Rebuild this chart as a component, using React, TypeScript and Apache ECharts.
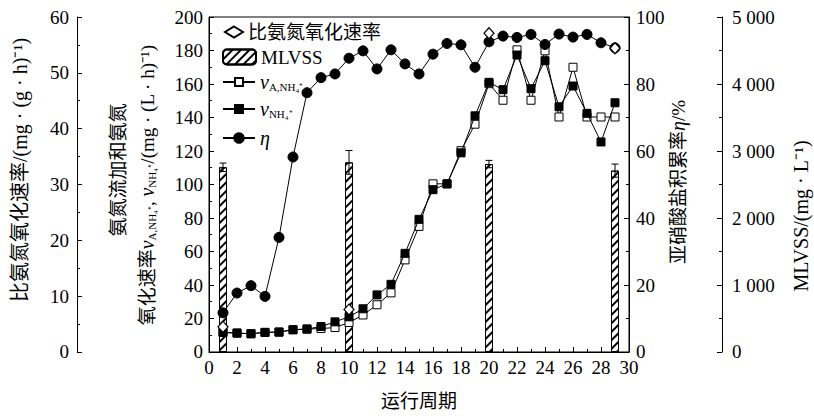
import React, { useEffect, useRef } from 'react';
import * as echarts from 'echarts';

// ---- data ----
const cycles = [1, 2, 3, 4, 5, 6, 7, 8, 9, 10, 11, 12, 13, 14, 15, 16, 17, 18, 19, 20, 21, 22, 23, 24, 25, 26, 27, 28, 29];
// 亚硝酸盐积累率 η (%)
const etaPct = [11.7, 17.6, 19.8, 16.6, 34.2, 58.2, 77.4, 81.9, 83.0, 87.7, 89.9, 84.5, 90.2, 86.0, 83.0, 88.9, 92.1, 91.7, 85.0, 92.6, 94.3, 93.9, 94.8, 91.8, 94.9, 94.0, 94.8, 92.3, 90.8];
// 氨氮流加速率 v_A,NH4+ (open squares)
const vAdded = [11.7, 11.3, 10.9, 11.7, 11.9, 13.3, 13.7, 14.0, 14.6, 17.6, 22.1, 28.2, 35.3, 55.0, 75.0, 100.4, 100.4, 120.2, 136.0, 160.2, 150.3, 180.4, 150.3, 179.8, 140.3, 170.0, 140.3, 140.3, 140.3];
// 氨氮氧化速率 v_NH4+ (filled squares)
const vOxidized = [11.7, 11.3, 10.9, 11.7, 11.9, 13.3, 13.7, 15.2, 18.0, 21.0, 25.8, 34.1, 40.4, 58.9, 79.2, 96.9, 100.4, 118.9, 141.0, 161.0, 156.6, 177.3, 157.2, 173.9, 146.4, 158.8, 142.5, 125.4, 148.8];
// 比氨氮氧化速率 (mg/(g·h))
const specCycles = [1, 10, 20, 29];
const specRate = [4.5, 7.6, 57.1, 54.4];
// MLVSS (mg/L)
const mlvss = [2757, 2830, 2805, 2707];
const mlvssErr = [63, 177, 55, 98];

const SERIF = "'Liberation Serif', 'Times New Roman', 'Noto Sans CJK SC', serif";
const FS = 19;

const pairs = (xs: number[], ys: number[]) => xs.map((x, i) => [x, ys[i]]);

const richStyles = {
  i: { fontStyle: 'italic', fontSize: 20, lineHeight: 20, fontFamily: SERIF, color: '#000', fill: '#000' },
  s: { fontSize: 11, lineHeight: 8, verticalAlign: 'bottom', fontFamily: SERIF, color: '#000', fill: '#000' },
};

function yAxisBase(extra: any) {
  return {
    type: 'value',
    axisLine: { show: true, lineStyle: { color: '#000', width: 1 } },
    axisTick: { show: true, inside: true, length: 5, lineStyle: { color: '#000', width: 1 } },
    minorTick: { show: true, splitNumber: 2, length: 3, lineStyle: { color: '#000', width: 1 } },
    splitLine: { show: false },
    minorSplitLine: { show: false },
    axisLabel: { color: '#000', fontSize: FS, fontFamily: SERIF },
    ...extra,
  };
}

function thousands(v: number) {
  if (v >= 1000) {
    return Math.floor(v / 1000) + ' ' + String(v % 1000).padStart(3, '0');
  }
  return String(v);
}

function nameText(x: number, y: number, text: string, fontSize: number) {
  return {
    type: 'text',
    x,
    y,
    rotation: Math.PI / 2,
    silent: true,
    style: {
      text,
      fill: '#000',
      fontSize,
      fontFamily: SERIF,
      align: 'center',
      verticalAlign: 'middle',
      textAlign: 'center',
      textVerticalAlign: 'middle',
      rich: richStyles,
    },
  };
}

export default function App() {
  const ref = useRef<HTMLDivElement>(null);
  useEffect(() => {
    document.body.style.margin = '0';
    if (!ref.current) return;
    const chart = echarts.init(ref.current, null, { renderer: 'svg' });

    const legendText = {
      color: '#000',
      fontSize: FS,
      fontFamily: SERIF,
      lineHeight: 20,
      rich: richStyles,
    };
    const legendCommon = { orient: 'horizontal', padding: 0, selectedMode: false, textStyle: legendText };

    const option: any = {
      animation: false,
      backgroundColor: '#fff',
      grid: { left: 209, right: 185, top: 17, bottom: 60, show: true, borderColor: '#000', borderWidth: 1, backgroundColor: 'transparent' },
      xAxis: {
        type: 'value',
        min: 0,
        max: 30,
        interval: 2,
        axisLine: { show: true, onZero: false, lineStyle: { color: '#000', width: 1 } },
        axisTick: { show: true, inside: true, length: 5, lineStyle: { color: '#000' } },
        minorTick: { show: true, splitNumber: 2, length: 3, lineStyle: { color: '#000' } },
        splitLine: { show: false },
        axisLabel: { color: '#000', fontSize: FS, fontFamily: SERIF, margin: 6 },
        name: '运行周期',
        nameLocation: 'middle',
        nameGap: 40,
        nameTextStyle: { color: '#000', fontSize: FS, fontFamily: SERIF },
      },
      yAxis: [
        yAxisBase({ position: 'left', offset: 0, min: 0, max: 200, interval: 20, axisLabel: { color: '#000', fontSize: FS, fontFamily: SERIF, margin: 6 } }),
        yAxisBase({ position: 'left', offset: 132, min: 0, max: 60, interval: 10, axisLabel: { color: '#000', fontSize: FS, fontFamily: SERIF, margin: 8 } }),
        yAxisBase({ position: 'right', offset: 0, min: 0, max: 100, interval: 20, axisLabel: { color: '#000', fontSize: FS, fontFamily: SERIF, margin: 7 } }),
        yAxisBase({ position: 'right', offset: 93, min: 0, max: 5000, interval: 1000, axisLabel: { color: '#000', fontSize: FS, fontFamily: SERIF, margin: 10, formatter: thousands } }),
      ],
      legend: [
        { ...legendCommon, data: ['比氨氮氧化速率'], left: 224, top: 22, itemWidth: 18, itemHeight: 11 },
        { ...legendCommon, data: ['MLVSS'], left: 222, top: 47, itemWidth: 33, itemHeight: 15 },
        { ...legendCommon, data: ['vA'], left: 222, top: 72, itemWidth: 32, itemHeight: 10, formatter: () => '{i|v}{s|A,NH₄⁺}' },
        { ...legendCommon, data: ['vN'], left: 222, top: 99, itemWidth: 32, itemHeight: 10, formatter: () => '{i|v}{s|NH₄⁺}' },
        { ...legendCommon, data: ['η'], left: 222, top: 128, itemWidth: 32, itemHeight: 12, formatter: () => '{i|η}' },
      ],
      graphic: [
        nameText(20, 170, '比氨氮氧化速率/(mg · (g · h)⁻¹)', 20),
        nameText(118, 170, '氨氮流加和氨氮', 19),
        nameText(147, 185, '氧化速率{i|v}{s|A,NH₄⁺}, {i|v}{s|NH₄⁺}/(mg · (L · h)⁻¹)', 19),
        nameText(678, 182, '亚硝酸盐积累率{i|η}/%', 19),
        nameText(801, 216, 'MLVSS/(mg · L⁻¹)', 20),
      ],
      series: [
        {
          name: 'MLVSS',
          type: 'bar',
          yAxisIndex: 3,
          barWidth: 8,
          data: pairs(specCycles, mlvss),
          itemStyle: {
            color: '#fff',
            borderColor: '#000',
            borderWidth: 1,
            decal: {
              symbol: 'rect',
              symbolSize: 1,
              dashArrayX: [1, 0],
              dashArrayY: [1.2, 3.5],
              rotation: -Math.PI / 4,
              color: '#000',
            },
          },
        },
        {
          name: 'MLVSS误差',
          type: 'custom',
          yAxisIndex: 3,
          data: specCycles.map((x, i) => [x, mlvss[i], mlvssErr[i]]),
          z: 3,
          renderItem: (params: any, api: any) => {
            const x = api.value(0);
            const top = api.value(1);
            const err = api.value(2);
            const p1 = api.coord([x, top + err]);
            const p2 = api.coord([x, top - err]);
            const st = { stroke: '#000', lineWidth: 1 };
            return {
              type: 'group',
              children: [
                { type: 'line', shape: { x1: p1[0], y1: p1[1], x2: p2[0], y2: p2[1] }, style: st },
                { type: 'line', shape: { x1: p1[0] - 3.5, y1: p1[1], x2: p1[0] + 3.5, y2: p1[1] }, style: st },
                { type: 'line', shape: { x1: p2[0] - 3.5, y1: p2[1], x2: p2[0] + 3.5, y2: p2[1] }, style: st },
              ],
            };
          },
        },
        {
          name: 'vA',
          type: 'line',
          yAxisIndex: 0,
          data: pairs(cycles, vAdded),
          symbol: 'rect',
          symbolSize: 8,
          lineStyle: { color: '#000', width: 1 },
          itemStyle: { color: '#fff', borderColor: '#000', borderWidth: 1 },
          z: 4,
        },
        {
          name: 'vN',
          type: 'line',
          yAxisIndex: 0,
          data: pairs(cycles, vOxidized),
          symbol: 'rect',
          symbolSize: 8,
          lineStyle: { color: '#000', width: 1 },
          itemStyle: { color: '#000', borderColor: '#000', borderWidth: 1 },
          z: 5,
        },
        {
          name: 'η',
          type: 'line',
          yAxisIndex: 2,
          data: pairs(cycles, etaPct),
          symbol: 'circle',
          symbolSize: 10,
          lineStyle: { color: '#000', width: 1 },
          itemStyle: { color: '#000', borderColor: '#000', borderWidth: 1 },
          z: 6,
        },
        {
          name: '比氨氮氧化速率',
          type: 'scatter',
          yAxisIndex: 1,
          data: pairs(specCycles, specRate),
          symbol: 'diamond',
          symbolSize: [10, 11],
          itemStyle: { color: '#fff', borderColor: '#000', borderWidth: 1.2, opacity: 1 },
          z: 8,
        },
      ],
    };
    chart.setOption(option);
    return () => chart.dispose();
  }, []);
  return <div ref={ref} style={{ width: 814, height: 416 }} />;
}
